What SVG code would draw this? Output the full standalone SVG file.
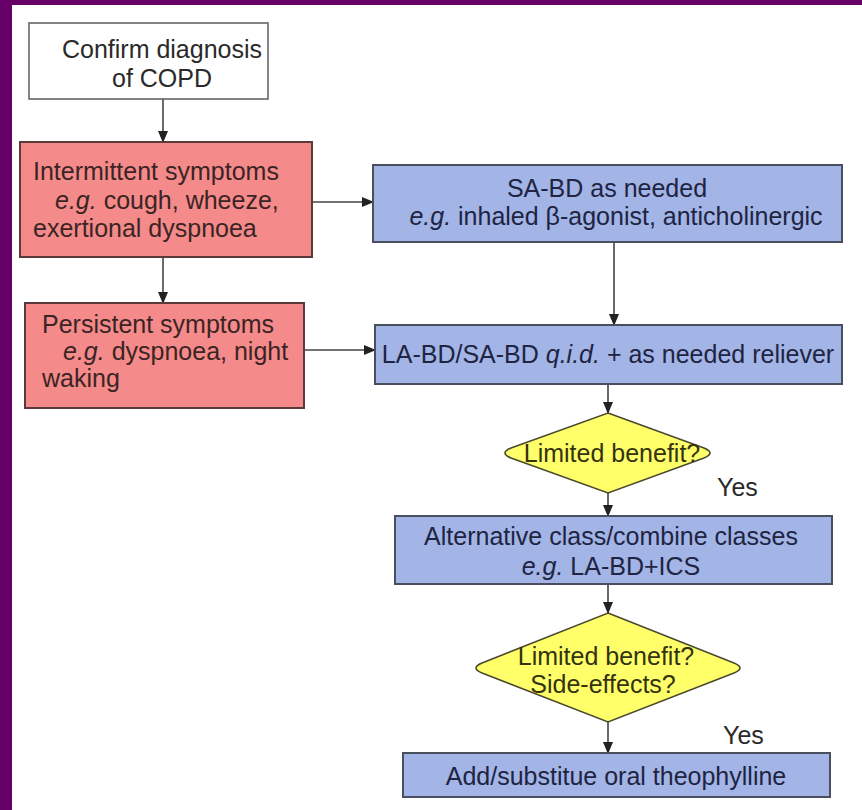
<svg xmlns="http://www.w3.org/2000/svg" width="862" height="810" viewBox="0 0 862 810">
<defs>
<marker id="ah" markerWidth="12" markerHeight="12" refX="11" refY="5" orient="auto" markerUnits="userSpaceOnUse">
<path d="M0,0 L12,5 L0,10 Z" fill="#222"/>
</marker>
<style>
text{font-family:"Liberation Sans",Arial,sans-serif;font-size:25px}
.red{fill:#f48a8a;stroke:#5a3a3a;stroke-width:2}
.blue{fill:#a3b4e6;stroke:#4a4f60;stroke-width:2}
.yel{fill:#ffff6a;stroke:#4a4a30;stroke-width:1.6}
.wht{fill:#fff;stroke:#666;stroke-width:1.6}
.tr{fill:#3b2424}
.tb{fill:#1e2442}
.ty{fill:#33330f}
.tk{fill:#2a2a2a}
.c{text-anchor:middle}
.conn{stroke:#444;stroke-width:1.6;fill:none;marker-end:url(#ah)}
</style>
</defs>
<rect x="0" y="0" width="862" height="810" fill="#fff"/>
<rect x="0" y="0" width="862" height="5" fill="#660066"/>
<rect x="0" y="0" width="12" height="810" fill="#660066"/>

<g id="connectors">
<line class="conn" x1="163" y1="99" x2="163" y2="142"/>
<line class="conn" x1="163" y1="257" x2="163" y2="303"/>
<line class="conn" x1="312" y1="202" x2="373" y2="202"/>
<line class="conn" x1="304" y1="350" x2="375" y2="350"/>
<line class="conn" x1="614" y1="242" x2="614" y2="325"/>
<line class="conn" x1="608" y1="384" x2="608" y2="413"/>
<line class="conn" x1="608" y1="493" x2="608" y2="516"/>
<line class="conn" x1="608" y1="584" x2="608" y2="613"/>
<line class="conn" x1="608" y1="722" x2="608" y2="753"/>
</g>

<g id="confirm">
<rect class="wht" x="29" y="23" width="239" height="76"/>
<text class="tk c" x="162" y="58">Confirm diagnosis</text>
<text class="tk c" x="162" y="87">of COPD</text>
</g>

<g id="intermittent">
<rect class="red" x="20" y="142" width="292" height="115"/>
<text class="tr" x="33" y="180">Intermittent symptoms</text>
<text class="tr" x="55" y="209"><tspan font-style="italic">e.g.</tspan> cough, wheeze,</text>
<text class="tr" x="33" y="237">exertional dyspnoea</text>
</g>

<g id="persistent">
<rect class="red" x="25" y="303" width="279" height="105"/>
<text class="tr" x="42" y="333">Persistent symptoms</text>
<text class="tr" x="63" y="360"><tspan font-style="italic">e.g.</tspan> dyspnoea, night</text>
<text class="tr" x="42" y="387">waking</text>
</g>

<g id="sabd">
<rect class="blue" x="373" y="165" width="469" height="77"/>
<text class="tb c" x="607" y="197">SA-BD as needed</text>
<text class="tb c" x="616" y="225"><tspan font-style="italic">e.g.</tspan> inhaled β-agonist, anticholinergic</text>
</g>

<g id="labd">
<rect class="blue" x="375" y="325" width="467" height="59"/>
<text class="tb c" x="608" y="363">LA-BD/SA-BD <tspan font-style="italic">q.i.d.</tspan> + as needed reliever</text>
</g>

<g id="decision1">
<path class="yel" d="M608,413 L704,448 Q716,453 704,458 L608,493 L511,458 Q499,453 511,448 Z"/>
<text class="ty c" x="612" y="462">Limited benefit?</text>
</g>
<text class="tk" x="717" y="496">Yes</text>

<g id="alternative">
<rect class="blue" x="395" y="516" width="437" height="68"/>
<text class="tb c" x="611" y="545">Alternative class/combine classes</text>
<text class="tb c" x="611" y="575"><tspan font-style="italic">e.g.</tspan> LA-BD+ICS</text>
</g>

<g id="decision2">
<path class="yel" d="M608,613 L734,663 Q746,668 734,673 L608,722 L482,673 Q470,668 482,663 Z"/>
<text class="ty c" x="606" y="665">Limited benefit?</text>
<text class="ty c" x="603" y="693">Side-effects?</text>
</g>
<text class="tk" x="723" y="744">Yes</text>

<g id="theophylline">
<rect class="blue" x="403" y="753" width="427" height="44"/>
<text class="tb c" x="616" y="785">Add/substitue oral theophylline</text>
</g>
</svg>
